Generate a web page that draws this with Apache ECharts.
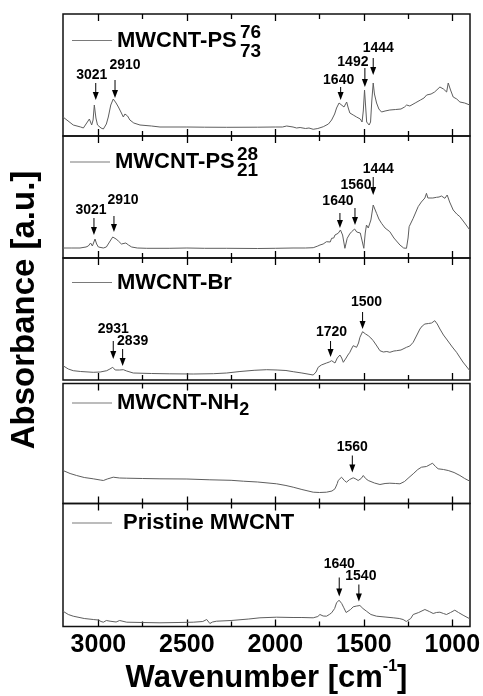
<!DOCTYPE html>
<html>
<head>
<meta charset="utf-8">
<script src="https://cdn.jsdelivr.net/npm/echarts@6/dist/echarts.min.js"></script>
<style>
html,body{margin:0;padding:0;background:#fff}
#chartDiv{width:483px;height:696px}
</style>
</head>
<body>
<div id="chartDiv"></div>
<script>
// spectra, [wavenumber, absorbance a.u.]
var specPS76 = [[3200,0.19],[3142,0.11],[3100,0.09],[3085,0.08],[3066,0.13],[3058,0.11],[3051,0.17],[3038,0.11],[3030,0.16],[3023,0.31],[3014,0.18],[3005,0.11],[2985,0.08],[2972,0.07],[2955,0.12],[2944,0.19],[2930,0.31],[2916,0.37],[2900,0.33],[2887,0.29],[2870,0.23],[2859,0.19],[2850,0.22],[2844,0.24],[2835,0.2],[2822,0.16],[2800,0.13],[2765,0.11],[2700,0.10],[2652,0.09],[2500,0.09],[2400,0.088],[2275,0.087],[2100,0.088],[2000,0.09],[1960,0.09],[1936,0.10],[1925,0.085],[1900,0.09],[1880,0.08],[1860,0.085],[1830,0.075],[1810,0.08],[1786,0.067],[1760,0.075],[1729,0.093],[1700,0.12],[1682,0.16],[1665,0.22],[1654,0.28],[1640,0.33],[1629,0.35],[1612,0.29],[1597,0.34],[1588,0.28],[1579,0.23],[1560,0.21],[1541,0.19],[1520,0.17],[1510,0.14],[1503,0.25],[1496,0.46],[1490,0.3],[1484,0.14],[1470,0.11],[1462,0.14],[1455,0.35],[1447,0.53],[1440,0.42],[1428,0.33],[1415,0.27],[1400,0.24],[1380,0.25],[1353,0.26],[1320,0.265],[1290,0.27],[1270,0.29],[1258,0.31],[1240,0.30],[1210,0.33],[1180,0.36],[1160,0.38],[1145,0.41],[1120,0.42],[1100,0.44],[1070,0.49],[1050,0.47],[1040,0.48],[1032,0.44],[1023,0.53],[1010,0.46],[995,0.39],[975,0.37],[957,0.34],[930,0.33],[901,0.31]];
var specPS28 = [[3200,0.10],[3150,0.10],[3104,0.10],[3070,0.11],[3057,0.12],[3044,0.15],[3034,0.12],[3026,0.14],[3019,0.19],[3010,0.14],[3000,0.11],[2972,0.10],[2955,0.11],[2944,0.13],[2930,0.18],[2919,0.21],[2900,0.19],[2887,0.17],[2870,0.14],[2859,0.13],[2845,0.15],[2830,0.13],[2812,0.11],[2780,0.10],[2727,0.097],[2600,0.097],[2500,0.10],[2400,0.097],[2275,0.097],[2100,0.095],[2000,0.097],[1900,0.10],[1830,0.10],[1786,0.103],[1760,0.12],[1748,0.13],[1730,0.14],[1711,0.163],[1700,0.18],[1690,0.16],[1682,0.197],[1670,0.20],[1663,0.23],[1645,0.247],[1632,0.28],[1620,0.23],[1607,0.097],[1594,0.197],[1580,0.24],[1569,0.263],[1552,0.29],[1540,0.26],[1532,0.24],[1520,0.25],[1513,0.23],[1500,0.097],[1492,0.25],[1485,0.33],[1475,0.3],[1470,0.28],[1460,0.38],[1447,0.53],[1438,0.49],[1428,0.447],[1415,0.39],[1400,0.347],[1380,0.30],[1353,0.263],[1330,0.2],[1296,0.13],[1275,0.10],[1259,0.097],[1250,0.2],[1244,0.313],[1221,0.397],[1193,0.513],[1175,0.56],[1165,0.58],[1155,0.60],[1146,0.647],[1138,0.60],[1127,0.58],[1110,0.60],[1089,0.607],[1075,0.61],[1061,0.62],[1050,0.61],[1042,0.597],[1029,0.63],[1015,0.56],[995,0.48],[975,0.44],[957,0.413],[930,0.35],[901,0.28]];
var specBr = [[3200,0.143],[3170,0.11],[3142,0.093],[3100,0.085],[3029,0.077],[2990,0.08],[2953,0.093],[2935,0.11],[2919,0.127],[2905,0.10],[2897,0.093],[2880,0.10],[2859,0.103],[2840,0.09],[2803,0.07],[2700,0.065],[2600,0.062],[2464,0.06],[2350,0.063],[2275,0.07],[2200,0.085],[2120,0.097],[2049,0.103],[1990,0.10],[1940,0.095],[1899,0.083],[1850,0.07],[1786,0.05],[1770,0.08],[1758,0.127],[1740,0.15],[1711,0.17],[1695,0.18],[1682,0.193],[1673,0.18],[1663,0.17],[1650,0.22],[1635,0.25],[1625,0.22],[1616,0.177],[1600,0.22],[1590,0.25],[1579,0.277],[1570,0.31],[1560,0.343],[1550,0.33],[1541,0.327],[1530,0.37],[1522,0.427],[1507,0.483],[1490,0.46],[1475,0.443],[1460,0.42],[1447,0.393],[1430,0.35],[1409,0.293],[1390,0.28],[1370,0.285],[1353,0.277],[1330,0.29],[1315,0.293],[1290,0.30],[1259,0.327],[1240,0.34],[1221,0.377],[1200,0.45],[1183,0.51],[1170,0.54],[1155,0.56],[1135,0.565],[1117,0.57],[1099,0.593],[1085,0.56],[1070,0.51],[1050,0.45],[1033,0.41],[1000,0.33],[976,0.277],[940,0.18],[901,0.093]];
var specNH2 = [[3200,0.33],[3160,0.30],[3123,0.28],[3080,0.26],[3029,0.247],[2990,0.235],[2972,0.23],[2950,0.245],[2916,0.263],[2880,0.255],[2840,0.253],[2750,0.25],[2652,0.247],[2500,0.245],[2370,0.237],[2250,0.232],[2181,0.223],[2100,0.215],[1993,0.197],[1940,0.18],[1899,0.163],[1850,0.14],[1786,0.113],[1750,0.11],[1711,0.113],[1680,0.125],[1663,0.147],[1650,0.2],[1645,0.23],[1626,0.263],[1610,0.23],[1598,0.213],[1580,0.24],[1560,0.257],[1545,0.245],[1532,0.23],[1515,0.25],[1503,0.28],[1490,0.25],[1475,0.23],[1440,0.205],[1409,0.19],[1380,0.2],[1353,0.203],[1320,0.2],[1296,0.197],[1270,0.22],[1245,0.26],[1221,0.297],[1195,0.34],[1174,0.363],[1146,0.37],[1125,0.39],[1112,0.403],[1095,0.37],[1080,0.347],[1050,0.34],[1023,0.33],[990,0.31],[957,0.28],[930,0.25],[901,0.223]];
var specPristine = [[3200,0.153],[3170,0.12],[3142,0.103],[3080,0.08],[3029,0.07],[3000,0.065],[2985,0.05],[2972,0.043],[2955,0.06],[2934,0.053],[2900,0.045],[2880,0.06],[2840,0.043],[2750,0.04],[2652,0.037],[2550,0.04],[2464,0.043],[2410,0.05],[2388,0.07],[2378,0.05],[2370,0.03],[2355,0.045],[2332,0.053],[2250,0.06],[2150,0.075],[2087,0.087],[1993,0.093],[1900,0.09],[1850,0.09],[1786,0.087],[1760,0.1],[1748,0.12],[1730,0.105],[1711,0.103],[1695,0.12],[1682,0.137],[1665,0.18],[1654,0.237],[1640,0.263],[1625,0.23],[1613,0.187],[1600,0.14],[1594,0.12],[1575,0.17],[1560,0.197],[1540,0.205],[1522,0.21],[1505,0.18],[1485,0.153],[1460,0.12],[1428,0.103],[1380,0.095],[1334,0.087],[1300,0.08],[1278,0.07],[1260,0.05],[1249,0.03],[1235,0.08],[1221,0.12],[1190,0.14],[1155,0.17],[1130,0.15],[1108,0.13],[1090,0.14],[1070,0.143],[1050,0.13],[1033,0.12],[1010,0.14],[986,0.163],[965,0.14],[939,0.113],[901,0.077]];

// peak marks: [wavenumber, arrow tip, arrow top, label height]
var annPS76 = [[3015,0.36,0.53,0.61],[2906,0.38,0.56,0.71],[1631,0.36,0.49,0.56],[1494,0.49,0.68,0.74],[1447,0.61,0.78,0.88]];
var labPS76 = ['3021','2910','1640','1492','1444'];
var annPS28 = [[3025,0.23,0.40,0.48],[2912,0.26,0.42,0.58],[1635,0.30,0.45,0.57],[1550,0.33,0.50,0.73],[1447,0.63,0.81,0.89]];
var labPS28 = ['3021','2910','1640','1560','1444'];
var annBr = [[2916,0.21,0.39,0.51],[2863,0.14,0.31,0.39],[1688,0.23,0.39,0.48],[1507,0.51,0.68,0.78]];
var labBr = ['2931','2839','1720','1500'];
var annNH2 = [[1565,0.31,0.48,0.56]];
var labNH2 = ['1560'];
var annPristine = [[1639,0.30,0.49,0.62],[1528,0.25,0.42,0.50]];
var labPristine = ['1640','1540'];

var majorTicks = [3000,2500,2000,1500,1000];
var minorTicks = [2750,2250,1750,1250];

var names = ['MWCNT-PS76/73','MWCNT-PS28/21','MWCNT-Br','MWCNT-NH2','Pristine MWCNT'];
var specs = [specPS76, specPS28, specBr, specNH2, specPristine];
var anns = [annPS76, annPS28, annBr, annNH2, annPristine];
var labs = [labPS76, labPS28, labBr, labNH2, labPristine];

// layout
var FONT = '"Liberation Sans", Arial, sans-serif';
var gridTop = [14, 136, 258, 383.5, 503.5];
var gridH = [122, 122, 122, 120, 123];
var labelNudge = [[-4,10,-2,-12,5],[-3,9,-2,1,5],[0,10,1,4],[0],[0,2]];
var legendTop = [29.5, 151, 271.5, 392, 512];
var legendLeft = [72, 70, 72, 72, 72];
var legendText = {
    'MWCNT-PS76/73': '{b|MWCNT-PS}',
    'MWCNT-PS28/21': '{b|MWCNT-PS}',
    'MWCNT-Br': '{b|MWCNT-Br}',
    'MWCNT-NH2': '{b|MWCNT-NH}{s|2}',
    'Pristine MWCNT': '{p|Pristine MWCNT}'
};

var myChart = echarts.init(document.getElementById('chartDiv'));

function arrowRenderer(p) {
    return function (params, api) {
        var w = api.value(0);
        var tip = api.coord([w, api.value(1)]);
        var top = api.coord([w, api.value(2)]);
        var lab = api.coord([w, api.value(3)]);
        var dx = labelNudge[p][params.dataIndex] || 0;
        return {
            type: 'group',
            children: [
                {type: 'line', shape: {x1: top[0], y1: top[1], x2: tip[0], y2: tip[1] - 6}, style: {stroke: '#000', lineWidth: 1}},
                {type: 'polygon', shape: {points: [[tip[0] - 3, tip[1] - 8], [tip[0] + 3, tip[1] - 8], [tip[0], tip[1]]]}, style: {fill: '#000'}},
                {type: 'text', x: lab[0] + dx, y: lab[1], style: {text: labs[p][params.dataIndex], font: 'bold 14px ' + FONT, fill: '#000', align: 'center', verticalAlign: 'middle'}}
            ]
        };
    };
}

var grids = [], xAxes = [], yAxes = [], series = [], legends = [];
for (var i = 0; i < 5; i++) {
    grids.push({left: 63, width: 407, top: gridTop[i], height: gridH[i], show: true, borderColor: '#111', borderWidth: 1.5,
        containLabel: false, outerBoundsMode: 'none'});
    var pos = ['bottom', 'top'];
    for (var k = 0; k < 2; k++) {
        var last = (i === 4 && k === 0);
        xAxes.push({
            type: 'value', gridIndex: i, position: pos[k], min: 900, max: 3200, inverse: true,
            axisLine: {show: false}, splitLine: {show: false},
            axisTick: {show: true, inside: true, length: 7, customValues: majorTicks, lineStyle: {color: '#000', width: 1.3}},
            axisLabel: {show: last, customValues: majorTicks, fontSize: 25, fontWeight: 'bold', color: '#000', fontFamily: FONT, margin: 6,
                formatter: function (v) { return String(v); }},
            name: last ? '{t|Wavenumber [cm}{sup|-1}{t|]}' : '',
            nameLocation: 'middle', nameGap: 30,
            nameTextStyle: {
                rich: {
                    t: {fontSize: 31, fontWeight: 'bold', color: '#000', fontFamily: FONT, lineHeight: 36},
                    sup: {fontSize: 16, fontWeight: 'bold', color: '#000', fontFamily: FONT, padding: [0, 0, 24, 0]}
                }
            }
        });
        xAxes.push({
            type: 'value', gridIndex: i, position: pos[k], min: 900, max: 3200, inverse: true,
            axisLine: {show: false}, splitLine: {show: false}, axisLabel: {show: false},
            axisTick: {show: true, inside: true, length: 5, customValues: minorTicks, lineStyle: {color: '#000', width: 1.3}}
        });
    }
    yAxes.push({
        type: 'value', gridIndex: i, min: 0, max: gridH[i] / 100,
        axisLine: {show: false}, axisTick: {show: false}, axisLabel: {show: false}, splitLine: {show: false}
    });
    series.push({
        name: names[i], type: 'line', xAxisIndex: i * 4, yAxisIndex: i,
        data: specs[i], symbol: 'none', smooth: false,
        lineStyle: {color: '#5e5e5e', width: 1}, itemStyle: {color: '#5e5e5e'}
    });
    series.push({
        type: 'custom', xAxisIndex: i * 4, yAxisIndex: i, silent: true, z: 5,
        data: anns[i], renderItem: arrowRenderer(i)
    });
    legends.push({
        data: [{name: names[i], icon: 'rect'}], left: legendLeft[i], top: legendTop[i], padding: 0,
        itemWidth: 40, itemHeight: 1.2, selectedMode: false,
        itemStyle: {color: '#7a7a7a'},
        formatter: function (name) { return legendText[name]; },
        textStyle: {
            rich: {
                b: {fontSize: 22, fontWeight: 'bold', color: '#000', fontFamily: FONT, lineHeight: 26},
                s: {fontSize: 18, fontWeight: 'bold', color: '#000', fontFamily: FONT, padding: [14, 0, 0, 0]},
                p: {fontSize: 22, fontWeight: 'bold', color: '#000', fontFamily: FONT, lineHeight: 26, padding: [0, 0, 0, 6]}
            }
        }
    });
}

option = {
    animation: false,
    backgroundColor: '#fff',
    grid: grids,
    xAxis: xAxes,
    yAxis: yAxes,
    legend: legends,
    series: series,
    graphic: [
        {type: 'text', x: 240, y: 32.5, style: {text: '76', font: 'bold 19px ' + FONT, fill: '#000', verticalAlign: 'middle'}},
        {type: 'text', x: 240, y: 51.5, style: {text: '73', font: 'bold 19px ' + FONT, fill: '#000', verticalAlign: 'middle'}},
        {type: 'text', x: 237, y: 154.5, style: {text: '28', font: 'bold 19px ' + FONT, fill: '#000', verticalAlign: 'middle'}},
        {type: 'text', x: 237, y: 170.5, style: {text: '21', font: 'bold 19px ' + FONT, fill: '#000', verticalAlign: 'middle'}},
        {type: 'text', x: 25, y: 310, rotation: Math.PI / 2, style: {text: 'Absorbance [a.u.]', font: 'bold 33px ' + FONT, fill: '#000', align: 'center', verticalAlign: 'middle'}}
    ]
};

myChart.setOption(option);
window.addEventListener("resize", function () {
    myChart.resize();
});
</script>
</body>
</html>
